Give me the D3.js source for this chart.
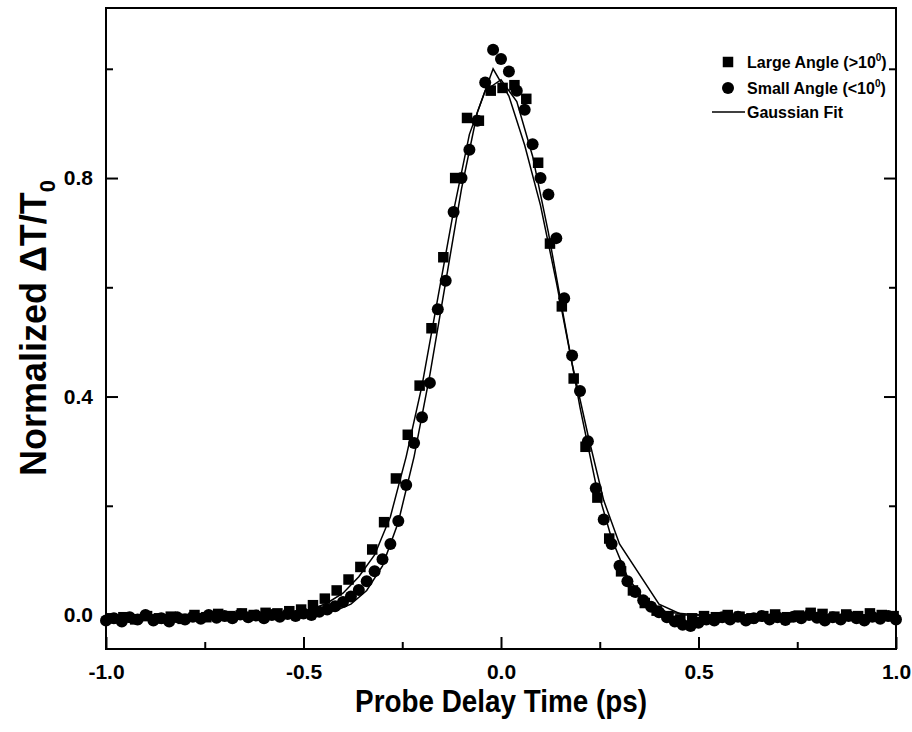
<!DOCTYPE html>
<html>
<head>
<meta charset="utf-8">
<script src="https://cdnjs.cloudflare.com/ajax/libs/d3/7.8.5/d3.min.js"></script>
<style>
body { margin: 0; background: #fff; }
text { font-family: "Liberation Sans", Arial, sans-serif; font-weight: bold; fill: #000; }
</style>
</head>
<body>
<div id="chart"></div>
<script>
// Large Angle (>10 deg) - squares
var largeX = [-0.986, -0.956, -0.926, -0.896, -0.866, -0.836, -0.806, -0.776, -0.746, -0.716,
    -0.686, -0.656, -0.626, -0.596, -0.566, -0.536, -0.506, -0.476, -0.446, -0.416,
    -0.386, -0.356, -0.326, -0.296, -0.266, -0.236, -0.206, -0.176, -0.146, -0.116,
    -0.086, -0.056, -0.026, 0.004, 0.034, 0.064, 0.094, 0.124, 0.154, 0.184,
    0.214, 0.244, 0.274, 0.304, 0.334, 0.364, 0.394, 0.424, 0.454, 0.484,
    0.514, 0.544, 0.574, 0.604, 0.634, 0.664, 0.694, 0.724, 0.754, 0.784,
    0.814, 0.844, 0.874, 0.904, 0.934, 0.964, 0.994];
var largeY = [-0.006, -0.004, -0.008, -0.002, -0.006, -0.003, -0.007, 0.000, -0.004, 0.002,
    -0.002, 0.003, 0.000, 0.004, 0.003, 0.007, 0.010, 0.018, 0.030, 0.045,
    0.065, 0.088, 0.120, 0.170, 0.250, 0.330, 0.420, 0.525, 0.655, 0.800,
    0.910, 0.905, 0.960, 0.965, 0.970, 0.945, 0.828, 0.680, 0.565, 0.433,
    0.308, 0.215, 0.140, 0.080, 0.045, 0.022, 0.008, -0.002, -0.008, -0.006,
    -0.002, -0.004, 0.000, -0.003, -0.006, -0.002, 0.001, -0.004, -0.001, 0.004,
    0.002, -0.003, 0.001, -0.002, 0.003, 0.000, -0.002];

// Small Angle (<10 deg) - circles
var smallX = [-1.00, -0.98, -0.96, -0.94, -0.92, -0.90, -0.88, -0.86, -0.84, -0.82,
    -0.80, -0.78, -0.76, -0.74, -0.72, -0.70, -0.68, -0.66, -0.64, -0.62,
    -0.60, -0.58, -0.56, -0.54, -0.52, -0.50, -0.48, -0.46, -0.44, -0.42,
    -0.40, -0.38, -0.36, -0.34, -0.32, -0.30, -0.28, -0.26, -0.24, -0.22,
    -0.20, -0.18, -0.16, -0.14, -0.12, -0.10, -0.08, -0.06, -0.04, -0.02,
    0.00, 0.02, 0.04, 0.06, 0.08, 0.10, 0.12, 0.14, 0.16, 0.18,
    0.20, 0.22, 0.24, 0.26, 0.28, 0.30, 0.32, 0.34, 0.36, 0.38,
    0.40, 0.42, 0.44, 0.46, 0.48, 0.50, 0.52, 0.54, 0.56, 0.58,
    0.60, 0.62, 0.64, 0.66, 0.68, 0.70, 0.72, 0.74, 0.76, 0.78,
    0.80, 0.82, 0.84, 0.86, 0.88, 0.90, 0.92, 0.94, 0.96, 0.98,
    1.00];
var smallY = [-0.010, -0.006, -0.012, -0.004, -0.008, 0.000, -0.010, -0.006, -0.012, -0.004,
    -0.008, -0.003, -0.007, 0.000, -0.005, -0.002, -0.006, 0.001, -0.004, -0.001,
    -0.006, 0.000, -0.003, 0.002, -0.002, 0.003, 0.000, 0.006, 0.010, 0.016,
    0.024, 0.034, 0.046, 0.062, 0.080, 0.102, 0.130, 0.172, 0.238, 0.315,
    0.362, 0.425, 0.560, 0.612, 0.738, 0.800, 0.852, 0.905, 0.975, 1.035,
    1.018, 0.995, 0.960, 0.925, 0.862, 0.800, 0.770, 0.690, 0.580, 0.475,
    0.410, 0.318, 0.232, 0.175, 0.130, 0.090, 0.062, 0.042, 0.027, 0.015,
    0.005, -0.004, -0.012, -0.018, -0.020, -0.014, -0.008, -0.010, -0.004, -0.008,
    -0.003, -0.010, -0.006, -0.002, -0.008, -0.004, -0.009, -0.003, -0.006, 0.000,
    -0.005, -0.010, -0.004, -0.008, -0.002, -0.006, -0.010, -0.003, -0.007, -0.002,
    -0.008];

// Gaussian fits (vertices)
var fitLargeX = [-1.00, -0.56, -0.48, -0.44, -0.40, -0.36, -0.32, -0.28, -0.24, -0.20, -0.16, -0.12, -0.08, -0.04,
    0.00, 0.04, 0.08, 0.12, 0.16, 0.20, 0.24, 0.28, 0.32, 0.36, 0.42, 0.50, 1.00];
var fitLargeY = [0.000, 0.000, 0.010, 0.022, 0.040, 0.070, 0.110, 0.180, 0.290, 0.420, 0.580, 0.740, 0.880, 0.960,
    0.980, 0.940, 0.840, 0.700, 0.540, 0.380, 0.240, 0.140, 0.070, 0.030, 0.005, 0.000, 0.000];
var fitSmallX = [-1.00, -0.50, -0.42, -0.38, -0.34, -0.30, -0.26, -0.22, -0.18, -0.14, -0.10, -0.06,
    -0.02, 0.02, 0.06, 0.10, 0.14, 0.18, 0.22, 0.26, 0.30, 0.40, 0.46, 1.00];
var fitSmallY = [0.000, 0.000, 0.008, 0.020, 0.045, 0.090, 0.170, 0.290, 0.440, 0.610, 0.780, 0.920,
    1.000, 0.950, 0.860, 0.750, 0.610, 0.460, 0.330, 0.210, 0.130, 0.020, 0.000, 0.000];

var xTicks = [-1.0, -0.5, 0.0, 0.5, 1.0];
var xMinor = [-0.75, -0.25, 0.25, 0.75];
var yTicks = [0.0, 0.4, 0.8];
var yMinor = [0.2, 0.6, 1.0];
var legendLabels = ["Large Angle (>10", "Small Angle (<10", "Gaussian Fit"];

var width = 912, height = 732;
var margin = { left: 106, right: 16, top: 8, bottom: 83 };

var svg = d3.select("#chart").append("svg")
    .attr("width", width)
    .attr("height", height);

var x = d3.scaleLinear().domain([-1, 1]).range([margin.left, width - margin.right]);
var y = d3.scaleLinear().domain([-0.0622, 1.1113]).range([height - margin.bottom, margin.top]);

var fmt = function(d) { return d.toFixed(1); };

// axes (ticks inside)
svg.append("g")
    .attr("transform", "translate(0," + (height - margin.bottom) + ")")
    .call(d3.axisBottom(x).tickValues(xTicks).tickSize(-12).tickPadding(15).tickFormat(fmt));
svg.append("g")
    .attr("transform", "translate(0," + (height - margin.bottom) + ")")
    .call(d3.axisBottom(x).tickValues(xMinor).tickSize(-7).tickFormat(""));

svg.append("g")
    .attr("transform", "translate(" + margin.left + ",0)")
    .call(d3.axisLeft(y).tickValues(yTicks).tickSize(-12).tickPadding(13).tickFormat(fmt));
svg.append("g")
    .attr("transform", "translate(" + margin.left + ",0)")
    .call(d3.axisLeft(y).tickValues(yMinor).tickSize(-7).tickFormat(""));

// right side ticks
svg.append("g")
    .attr("transform", "translate(" + (width - margin.right) + ",0)")
    .call(d3.axisRight(y).tickValues(yTicks).tickSize(-12).tickFormat(""));
svg.append("g")
    .attr("transform", "translate(" + (width - margin.right) + ",0)")
    .call(d3.axisRight(y).tickValues(yMinor).tickSize(-7).tickFormat(""));

svg.selectAll(".domain").remove();
svg.selectAll(".tick line").attr("stroke", "#000").attr("stroke-width", 2);
svg.selectAll(".tick text").style("font-size", "21px").style("font-family", "Liberation Sans, Arial, sans-serif")
    .style("font-weight", "bold");

// frame
svg.append("rect")
    .attr("x", margin.left)
    .attr("y", margin.top)
    .attr("width", width - margin.left - margin.right)
    .attr("height", height - margin.top - margin.bottom)
    .attr("fill", "none")
    .attr("stroke", "#000")
    .attr("stroke-width", 2);

// markers
var sq = 10.5;
svg.append("g").selectAll("rect")
    .data(largeX)
    .enter().append("rect")
    .attr("x", function(d) { return x(d) - sq / 2; })
    .attr("y", function(d, i) { return y(largeY[i]) - sq / 2; })
    .attr("width", sq)
    .attr("height", sq)
    .attr("fill", "#000");

svg.append("g").selectAll("circle")
    .data(smallX)
    .enter().append("circle")
    .attr("cx", function(d) { return x(d); })
    .attr("cy", function(d, i) { return y(smallY[i]); })
    .attr("r", 6)
    .attr("fill", "#000");

// fit lines
var line = d3.line()
    .x(function(d) { return x(d[0]); })
    .y(function(d) { return y(d[1]); });

svg.append("path")
    .datum(d3.zip(fitLargeX, fitLargeY))
    .attr("d", line)
    .attr("fill", "none")
    .attr("stroke", "#000")
    .attr("stroke-width", 1.5);

svg.append("path")
    .datum(d3.zip(fitSmallX, fitSmallY))
    .attr("d", line)
    .attr("fill", "none")
    .attr("stroke", "#000")
    .attr("stroke-width", 1.5);

// titres des axes
svg.append("text")
    .attr("transform", "translate(501,712) scale(0.87,1)")
    .attr("text-anchor", "middle")
    .style("font-size", "32px")
    .text("Probe Delay Time (ps)");

var yTitle = svg.append("text")
    .attr("transform", "translate(46,328) rotate(-90)")
    .attr("text-anchor", "middle")
    .style("font-size", "36px");
yTitle.append("tspan").text("Normalized \u0394T/T");
yTitle.append("tspan").attr("dy", 9).style("font-size", "22px").text("0");

// legend
var leg = svg.append("g");
leg.append("rect").attr("x", 728 - sq / 2).attr("y", 62 - sq / 2).attr("width", sq).attr("height", sq).attr("fill", "#000");
leg.append("circle").attr("cx", 728).attr("cy", 88).attr("r", 6).attr("fill", "#000");
leg.append("line").attr("x1", 712).attr("x2", 745).attr("y1", 112).attr("y2", 112)
    .attr("stroke", "#000").attr("stroke-width", 1.5);

[68, 94].forEach(function(by, i) {
    var t = leg.append("text").attr("x", 747).attr("y", by).style("font-size", "16px");
    t.append("tspan").text(legendLabels[i]);
    t.append("tspan").attr("dy", -7).style("font-size", "10px").text("0");
    t.append("tspan").attr("dy", 7).text(")");
});
leg.append("text").attr("x", 747).attr("y", 118).style("font-size", "16px").text(legendLabels[2]);
</script>
</body>
</html>
